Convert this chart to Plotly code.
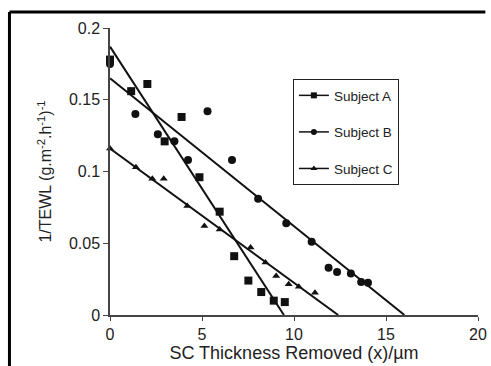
import plotly.graph_objects as go

# Measured points: SC thickness removed (um) vs 1/TEWL
a_x = [0.0, 1.15, 2.03, 2.97, 3.89, 4.86, 5.96, 6.75, 7.52, 8.22, 8.9, 9.5]
a_y = [0.178, 0.156, 0.161, 0.121, 0.138, 0.096, 0.072, 0.041, 0.024, 0.016, 0.010, 0.009]

b_x = [0.0, 1.38, 2.6, 3.5, 4.24, 5.3, 6.63, 8.05, 9.58, 10.96, 11.88, 12.34, 13.09, 13.65, 14.02]
b_y = [0.175, 0.140, 0.126, 0.121, 0.108, 0.142, 0.108, 0.081, 0.064, 0.051, 0.033, 0.030, 0.029, 0.023, 0.0225]

c_x = [0.0, 1.41, 2.3, 2.92, 4.2, 5.13, 5.96, 7.64, 8.45, 9.03, 9.71, 10.26, 11.14]
c_y = [0.116, 0.103, 0.095, 0.095, 0.076, 0.062, 0.0595, 0.047, 0.0365, 0.0272, 0.0215, 0.0197, 0.0155]

# Regression lines: (intercept at x=0, x-intercept)
a_fit = (0.187, 9.45)
b_fit = (0.165, 16.0)
c_fit = (0.116, 12.4)

names = ["Subject A", "Subject B", "Subject C"]
symbols = ["square", "circle", "triangle-up"]
sizes = [8, 8, 7]

fig = go.Figure()
series = [(a_x, a_y, a_fit), (b_x, b_y, b_fit), (c_x, c_y, c_fit)]
for i, (xs, ys, fit) in enumerate(series):
    y0, xint = fit
    fig.add_trace(go.Scatter(x=[0, xint], y=[y0, 0], mode="lines",
                             line=dict(color="#111", width=2),
                             showlegend=False, cliponaxis=False, hoverinfo="skip"))
    fig.add_trace(go.Scatter(x=xs, y=ys, mode="markers",
                             marker=dict(symbol=symbols[i], size=sizes[i], color="#111"),
                             showlegend=False, cliponaxis=False, name=names[i]))
    # legend key: line with marker
    fig.add_trace(go.Scatter(x=[None], y=[None], mode="lines+markers", name=names[i],
                             legendgroup=names[i],
                             line=dict(color="#111", width=1.5),
                             marker=dict(symbol=symbols[i], size=6, color="#111")))

axis_font = dict(family="Liberation Sans, Arial, sans-serif", size=16, color="#222")

fig.update_layout(
    width=491, height=366,
    margin=dict(l=110, r=4, t=28, b=51),
    paper_bgcolor="white", plot_bgcolor="white",
    font=dict(family="Liberation Sans, Arial, sans-serif", color="#222"),
    xaxis=dict(range=[0, 20], tickvals=[0, 5, 10, 15, 20],
               showline=True, linecolor="#444", linewidth=1.5,
               ticks="outside", ticklen=4, tickcolor="#444",
               showgrid=False, zeroline=False, tickfont=axis_font,
               ticklabeloverflow="allow",
               title=dict(text="SC Thickness Removed (x)/\u00b5m",
                          font=dict(size=18, color="#222"), standoff=3)),
    yaxis=dict(range=[0, 0.2], tickvals=[0, 0.05, 0.1, 0.15, 0.2],
               ticktext=["0", "0.05", "0.1", "0.15", "0.2"],
               showline=True, linecolor="#444", linewidth=1.5,
               ticks="outside", ticklen=5, tickcolor="#444",
               showgrid=False, zeroline=False, tickfont=axis_font,
               title=dict(text="1/TEWL (g.m<sup>-2</sup>.h<sup>-1</sup>)<sup>-1</sup>",
                          font=dict(size=16, color="#222"), standoff=13)),
    legend=dict(x=0.497, y=0.822, xanchor="left", yanchor="top",
                bordercolor="#222", borderwidth=1, bgcolor="white",
                font=dict(size=13.5, color="#222"), tracegroupgap=16),
    shapes=[
        dict(type="line", xref="paper", yref="paper", x0=-0.2732, x1=-0.2732,
             y0=1.0557, y1=-0.2, line=dict(color="black", width=3)),
        dict(type="line", xref="paper", yref="paper", x0=-0.2732, x1=1.02,
             y0=1.0557, y1=1.0557, line=dict(color="black", width=3)),
    ],
)

fig.write_html("out.html")
